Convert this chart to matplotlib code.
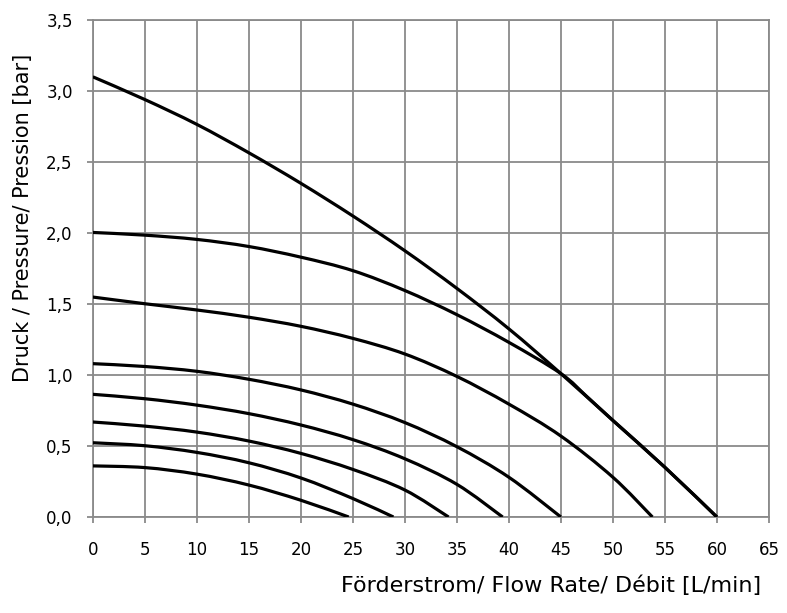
import matplotlib
matplotlib.use("Agg")
import numpy as np
import matplotlib.pyplot as plt
from matplotlib.path import Path
from matplotlib.patches import PathPatch
from matplotlib.ticker import FuncFormatter

# Flow rate readings [L/min] and pressures [bar] for each pump curve
x_a = [0, 5, 10, 15, 20, 25, 30, 35, 40, 45, 50, 55, 60]
y_a = [3.10, 2.94, 2.765, 2.565, 2.35, 2.12, 1.875, 1.61, 1.325, 1.01, 0.68, 0.35, 0.0]

x_b = [0, 5, 10, 15, 20, 25, 30, 35, 40, 45, 47.5, 50, 55, 60]
y_b = [2.004, 1.985, 1.955, 1.905, 1.83, 1.735, 1.595, 1.425, 1.23, 1.01, 0.848, 0.68, 0.35, 0.0]

x_c = [0, 5, 10, 15, 20, 25, 30, 35, 40, 45, 50, 53.8]
y_c = [1.549, 1.502, 1.458, 1.407, 1.343, 1.258, 1.148, 0.99, 0.795, 0.57, 0.28, 0.0]

x_d = [0, 5, 10, 15, 20, 25, 30, 35, 40, 45]
y_d = [1.08, 1.06, 1.026, 0.97, 0.895, 0.795, 0.665, 0.495, 0.28, 0.0]

x_e = [0, 5, 10, 15, 20, 25, 30, 35, 39.4]
y_e = [0.864, 0.833, 0.788, 0.728, 0.648, 0.545, 0.41, 0.23, 0.0]

x_f = [0, 5, 10, 15, 20, 25, 30, 34.2]
y_f = [0.669, 0.64, 0.598, 0.535, 0.448, 0.335, 0.19, 0.0]

x_g = [0, 5, 10, 15, 20, 25, 28.9]
y_g = [0.523, 0.502, 0.455, 0.382, 0.275, 0.13, 0.0]

x_h = [0, 5, 10, 15, 20, 24.6]
y_h = [0.36, 0.348, 0.302, 0.225, 0.118, 0.0]

x_ticks = list(range(0, 66, 5))
y_ticks = [0.0, 0.5, 1.0, 1.5, 2.0, 2.5, 3.0, 3.5]

x_label = "Förderstrom/ Flow Rate/ Débit [L/min]"
y_label = "Druck / Pressure/ Pression [bar]"


def smooth_path(xs, ys):
    """Catmull-Rom curve through the read points, as cubic Bezier segments."""
    p = np.column_stack([xs, ys]).astype(float)
    verts = [p[0]]
    codes = [Path.MOVETO]
    n = len(p)
    for i in range(n - 1):
        p0 = p[i - 1] if i > 0 else p[i]
        p1, p2 = p[i], p[i + 1]
        p3 = p[i + 2] if i + 2 < n else p[i + 1]
        c1 = p1 + (p2 - p0) / 6.0
        c2 = p2 - (p3 - p1) / 6.0
        verts += [c1, c2, p2]
        codes += [Path.CURVE4] * 3
    return Path(verts, codes)


fig = plt.figure(figsize=(7.87, 6.13), dpi=100)
ax = fig.add_axes([0.118, 0.1566, 0.859, 0.8107])

grid_c = "#8a8a8a"
for xs, ys in [(x_a, y_a), (x_b, y_b), (x_c, y_c), (x_d, y_d),
               (x_e, y_e), (x_f, y_f), (x_g, y_g), (x_h, y_h)]:
    ax.add_patch(PathPatch(smooth_path(xs, ys), facecolor="none", edgecolor="black",
                           lw=2.3, capstyle="butt", zorder=3))

ax.set_xlim(0, 65)
ax.set_ylim(0, 3.5)
ax.set_xticks(x_ticks)
ax.set_yticks(y_ticks)
ax.grid(True, color=grid_c, lw=1.3, zorder=1)
ax.set_axisbelow(True)
for s in ax.spines.values():
    s.set_color(grid_c)
    s.set_linewidth(1.3)

ax.yaxis.set_major_formatter(FuncFormatter(lambda v, p: f"{v:.1f}".replace(".", ",")))
ax.tick_params(axis="both", colors=grid_c, width=1.3, length=4.5, direction="out",
               labelsize=12, labelfontfamily="DejaVu Sans", labelcolor="black")
ax.tick_params(axis="x", pad=13)
ax.tick_params(axis="y", pad=10)

fig.text(0.967, 0.028, x_label, ha="right", va="bottom", fontsize=16, family="DejaVu Sans")
fig.text(0.029, 0.644, y_label, ha="center", va="center", rotation=90, fontsize=15,
         family="DejaVu Sans")

fig.savefig("out.png", dpi=100)
